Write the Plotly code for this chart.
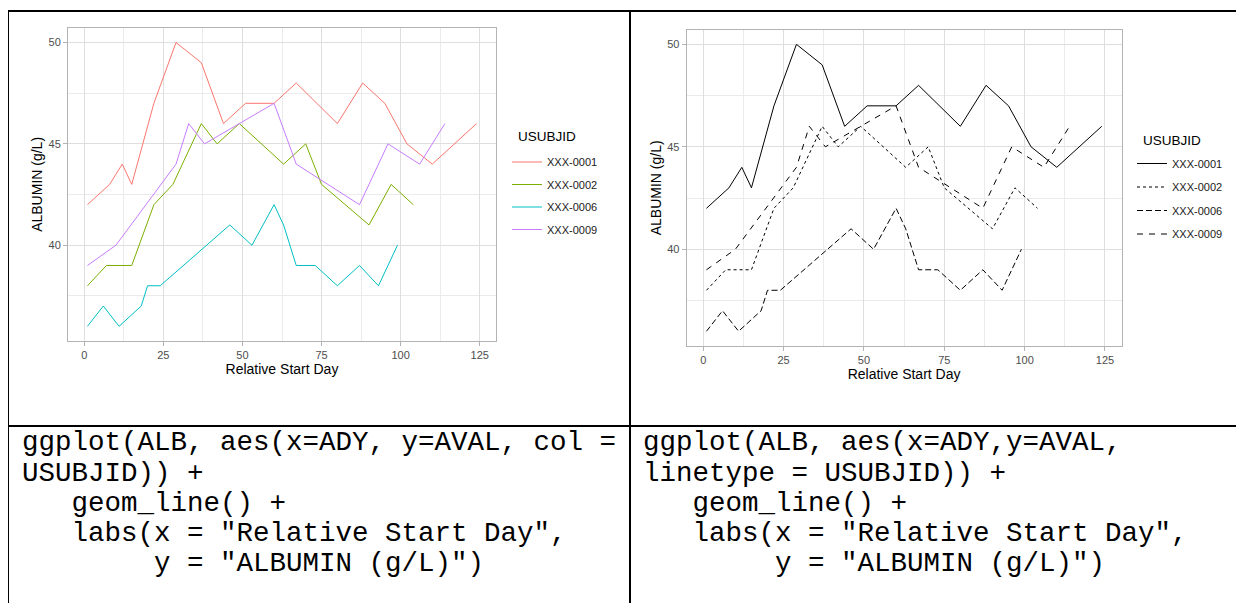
import plotly.graph_objects as go

# ---------------- data ----------------
subjects = ["XXX-0001", "XXX-0002", "XXX-0006", "XXX-0009"]

day_0001 = [1, 8, 12, 15, 22, 29, 37, 44, 51, 60, 67, 80, 88, 95, 102, 110, 124]
alb_0001 = [42, 43, 44, 43, 47, 50, 49, 46, 47, 47, 48, 46, 48, 47, 45, 44, 46]

day_0002 = [1, 7, 15, 22, 28, 37, 42, 49, 63, 70, 75, 90, 97, 104]
alb_0002 = [38, 39, 39, 42, 43, 46, 45, 46, 44, 45, 43, 41, 43, 42]

day_0006 = [1, 6, 11, 18, 20, 24, 46, 53, 60, 63, 67, 73, 80, 87, 93, 99]
alb_0006 = [36, 37, 36, 37, 38, 38, 41, 40, 42, 41, 39, 39, 38, 39, 38, 40]

day_0009 = [1, 10, 29, 33, 38, 60, 67, 87, 96, 106, 114]
alb_0009 = [39, 40, 44, 46, 45, 47, 44, 42, 45, 44, 46]

x_ticks = [0, 25, 50, 75, 100, 125]
y_ticks = [40, 45, 50]

code_left = [
    "ggplot(ALB, aes(x=ADY, y=AVAL, col =",
    "USUBJID)) +",
    "   geom_line() +",
    "   labs(x = \"Relative Start Day\",",
    "        y = \"ALBUMIN (g/L)\")",
]
code_right = [
    "ggplot(ALB, aes(x=ADY,y=AVAL,",
    "linetype = USUBJID)) +",
    "   geom_line() +",
    "   labs(x = \"Relative Start Day\",",
    "        y = \"ALBUMIN (g/L)\")",
]

# ---------------- styling ----------------
W, H = 1244, 603
OFF = 8  # page body margin of the html page
colors = ["#F8766D", "#7CAE00", "#00BFC4", "#C77CFF"]
dashes = ["solid", "3px,3px", "6px,3px", "6px,6px"]
days = [day_0001, day_0002, day_0006, day_0009]
albs = [alb_0001, alb_0002, alb_0006, alb_0009]


def px(x):
    return (x - OFF) / W


def py(y):
    return 1 - (y - OFF) / H


fig = go.Figure()

for i, s in enumerate(subjects):
    fig.add_trace(go.Scatter(
        x=days[i], y=albs[i], mode="lines", name=s,
        line=dict(color=colors[i], width=1),
        xaxis="x", yaxis="y", legend="legend", legendgroup="a" + s,
    ))
for i, s in enumerate(subjects):
    fig.add_trace(go.Scatter(
        x=days[i], y=albs[i], mode="lines", name=s,
        line=dict(color="black", width=1, dash=dashes[i]),
        xaxis="x2", yaxis="y2", legend="legend2", legendgroup="b" + s,
    ))

tick_font = dict(family="Liberation Sans, Arial", size=11, color="#4D4D4D")
title_font = dict(family="Liberation Sans, Arial", size=14, color="black")


def xaxis(domain, anchor):
    return dict(
        domain=domain, anchor=anchor, range=[-5.15, 130.15],
        tickvals=x_ticks, ticktext=[str(v) for v in x_ticks],
        showline=True, mirror=True, linecolor="#B3B3B3", linewidth=1,
        ticks="outside", ticklen=4, tickcolor="#B3B3B3", tickwidth=1,
        showgrid=True, gridcolor="#DEDEDE", gridwidth=1, zeroline=False,
        minor=dict(tick0=0, dtick=12.5, showgrid=True, gridcolor="#EBEBEB", gridwidth=1, ticks=""),
        tickfont=tick_font,
        title=dict(text="Relative Start Day", font=title_font, standoff=2),
        automargin=False, fixedrange=True,
    )


def yaxis(domain, anchor):
    return dict(
        domain=domain, anchor=anchor, range=[35.3, 50.7],
        tickvals=y_ticks, ticktext=[str(v) for v in y_ticks],
        showline=True, mirror=True, linecolor="#B3B3B3", linewidth=1,
        ticks="outside", ticklen=4, tickcolor="#B3B3B3", tickwidth=1,
        showgrid=True, gridcolor="#DEDEDE", gridwidth=1, zeroline=False,
        minor=dict(tick0=0, dtick=2.5, showgrid=True, gridcolor="#EBEBEB", gridwidth=1, ticks=""),
        tickfont=tick_font,
        title=dict(text="ALBUMIN (g/L)", font=title_font, standoff=2),
        automargin=False, fixedrange=True,
    )


legend_common = dict(
    xanchor="left", yanchor="top", bgcolor="rgba(0,0,0,0)",
    font=dict(family="Liberation Sans, Arial", size=11, color="#1A1A1A"),
    traceorder="grouped",
)

fig.update_layout(
    width=W, height=H, margin=dict(l=0, r=0, t=0, b=0),
    paper_bgcolor="white", plot_bgcolor="white", showlegend=True,
    xaxis=xaxis([px(68), px(496)], "y"),
    yaxis=yaxis([py(340.5), py(28.3)], "x"),
    xaxis2=xaxis([px(686.7), px(1121.5)], "y2"),
    yaxis2=yaxis([py(345.6), py(30)], "x2"),
    legend=dict(legend_common, x=px(507), y=py(147.5), tracegroupgap=3.5),
    legend2=dict(legend_common, x=px(1132), y=py(149), tracegroupgap=4.5),
)

# legend titles
legend_title_font = dict(family="Liberation Sans, Arial", size=13.5, color="black")
for lx, ly in ((518, 136.5), (1143, 140.7)):
    fig.add_annotation(text="USUBJID", xref="paper", yref="paper",
                       x=px(lx - 2), y=py(ly), xanchor="left", yanchor="middle",
                       showarrow=False, font=legend_title_font)

# table borders
lines = [
    (7, 11, W + OFF, 11),
    (8, 10, 8, H + OFF),
    (630, 10, 630, H + OFF),
    (7, 426, W + OFF, 426),
]
for x0, y0, x1, y1 in lines:
    fig.add_shape(type="line", xref="paper", yref="paper",
                  x0=px(x0), y0=py(y0), x1=px(x1), y1=py(y1),
                  line=dict(color="black", width=2))

# code text
row_y = [442, 473, 503, 533, 563]
mono = dict(family="Liberation Mono, Courier New", size=27.5, color="black")
for x0, rows in ((20, code_left), (641, code_right)):
    for txt, yy in zip(rows, row_y):
        fig.add_annotation(
            text=txt.replace(" ", "\u00a0"), xref="paper", yref="paper",
            x=px(x0), y=py(yy), xanchor="left", yanchor="middle",
            showarrow=False, font=mono,
        )

fig.write_html("out.html", config={"displayModeBar": False})
